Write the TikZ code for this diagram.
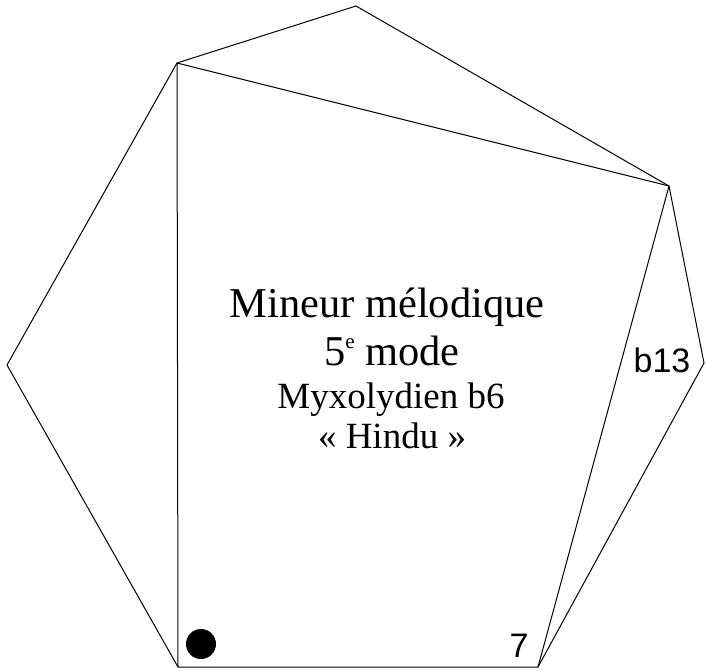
\documentclass[tikz,border=0pt]{standalone}
\usepackage{fontspec}
\setmainfont{Liberation Serif}
\newfontfamily\labfont{Liberation Sans}
\begin{document}
\begin{tikzpicture}[x=1pt,y=-1pt,
  edge/.style={draw=black,line width=1pt,line join=miter},
  bigtxt/.style={font=\fontsize{42.5}{42.5}\selectfont,inner sep=0pt,anchor=base},
  midtxt/.style={font=\fontsize{37}{37}\selectfont,inner sep=0pt,anchor=base},
  lab/.style={font=\labfont\fontsize{34}{34}\selectfont,inner sep=0pt,anchor=base}]
\useasboundingbox (0,0) rectangle (706,671);
\coordinate (A) at (356,6);
\coordinate (B) at (669,186);
\coordinate (C) at (704,363);
\coordinate (D) at (538,667);
\coordinate (E) at (178,667);
\coordinate (F) at (7,365);
\coordinate (G) at (177,63);
\draw[edge] (A) -- (B) -- (C) -- (D) -- (E) -- (F) -- (G) -- cycle;
\draw[edge] (G) -- (B);
\draw[edge] (G) -- (E);
\draw[edge] (B) -- (D);
\node[bigtxt] (t1) at (387,317) {Mineur mélodique};
\node[bigtxt] (t2) at (392,365) {5\raisebox{17pt}{\fontsize{21}{21}\selectfont e} mode};
\node[midtxt] (t3) at (391,408) {Myxolydien b6};
\node[midtxt] (t4) at (392,448) {« Hindu »};
\node[lab] (l1) at (662,372) {b13};
\node[lab] (l2) at (519,657) {7};
\fill (201,644) circle (15) coordinate (dot);
\end{tikzpicture}
\end{document}
